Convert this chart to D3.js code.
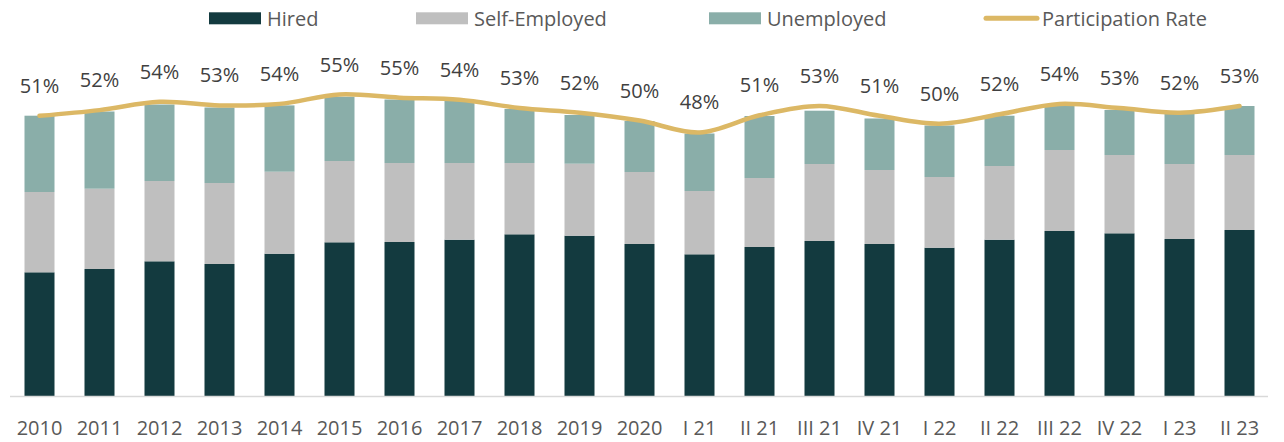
<!DOCTYPE html>
<html>
<head>
<meta charset="utf-8">
<script src="https://cdn.jsdelivr.net/npm/d3@7"></script>
<style>
  html, body { margin: 0; padding: 0; background: #fff; }
  svg { display: block; font-family: "Open Sans", "Noto Sans", sans-serif; }
</style>
</head>
<body>
<div id="chart"></div>
<script>
// categories and series (labour force, thousands)
const categories = ["2010", "2011", "2012", "2013", "2014", "2015", "2016", "2017", "2018", "2019", "2020",
  "I 21", "II 21", "III 21", "IV 21", "I 22", "II 22", "III 22", "IV 22", "I 23", "II 23"];
const hired = [1242, 1275, 1352, 1325, 1428, 1542, 1545, 1568, 1622, 1608, 1525,
  1422, 1495, 1555, 1525, 1488, 1568, 1655, 1632, 1575, 1665];
const selfEmployed = [803, 803, 803, 810, 820, 813, 790, 767, 713, 720, 720,
  633, 690, 770, 740, 707, 737, 810, 783, 750, 750];
const unemployed = [763, 772, 765, 755, 663, 643, 635, 620, 540, 487, 510,
  575, 620, 533, 515, 515, 503, 445, 450, 510, 490];
const participation = [51.3, 52.4, 54.0, 53.3, 53.6, 55.4, 54.8, 54.4, 52.8, 51.9, 50.4,
  48.1, 51.4, 53.2, 51.3, 49.8, 51.6, 53.6, 52.8, 51.9, 53.2];

const seriesNames = ["Hired", "Self-Employed", "Unemployed"];
const colors = { "Hired": "#133a3f", "Self-Employed": "#bfbfbf", "Unemployed": "#8aaea9" };
const lineColor = "#dcb865";

const width = 1284, height = 442;
const baseY = 396.5;

const rows = categories.map((c, i) => ({
  cat: c, "Hired": hired[i], "Self-Employed": selfEmployed[i], "Unemployed": unemployed[i], rate: participation[i]
}));

const svg = d3.select("#chart").append("svg")
  .attr("width", width)
  .attr("height", height);

const x = d3.scaleBand()
  .domain(categories)
  .range([9.5, 1269.5])
  .paddingInner(0.5)
  .paddingOuter(0.25);

const y = d3.scaleLinear()
  .domain([0, 3600])
  .range([baseY, 36.5]);

// secondary scale for participation rate
const y2 = d3.scaleLinear()
  .domain([45, 56])
  .range([148.6, 91.4]);

const stack = d3.stack().keys(seriesNames);
const layers = stack(rows);

svg.append("g")
  .selectAll("g")
  .data(layers)
  .join("g")
  .attr("fill", d => colors[d.key])
  .selectAll("rect")
  .data(d => d)
  .join("rect")
  .attr("x", d => x(d.data.cat))
  .attr("y", d => y(d[1]))
  .attr("width", x.bandwidth())
  .attr("height", d => y(d[0]) - y(d[1]));

// x axis
const xAxis = svg.append("g")
  .attr("transform", `translate(0,${baseY})`)
  .call(d3.axisBottom(x).tickSize(0).tickPadding(24));
xAxis.select(".domain")
  .attr("stroke", "#d9d9d9")
  .attr("stroke-width", 1.5)
  .attr("d", "M10,0H1268");
xAxis.selectAll("text")
  .attr("fill", "#595959")
  .style("font-size", "20px")
  .style("font-family", "'Open Sans', 'Noto Sans', sans-serif");

// participation line
const line = d3.line()
  .x(d => x(d.cat) + x.bandwidth() / 2)
  .y(d => y2(d.rate))
  .curve(d3.curveCatmullRom);

svg.append("path")
  .datum(rows)
  .attr("fill", "none")
  .attr("stroke", lineColor)
  .attr("stroke-width", 4.5)
  .attr("stroke-linecap", "round")
  .attr("d", line);

svg.append("g")
  .selectAll("text")
  .data(rows)
  .join("text")
  .attr("x", d => x(d.cat) + x.bandwidth() / 2)
  .attr("y", d => y2(d.rate) - 23)
  .attr("text-anchor", "middle")
  .attr("fill", "#404040")
  .style("font-size", "20px")
  .text(d => Math.round(d.rate) + "%");

// legend
const legend = svg.append("g").attr("class", "legend");
const legendItems = [
  { name: "Hired", x: 209, type: "rect" },
  { name: "Self-Employed", x: 416, type: "rect" },
  { name: "Unemployed", x: 709, type: "rect" },
  { name: "Participation Rate", x: 984, type: "line" }
];
legendItems.forEach(item => {
  if (item.type === "rect") {
    legend.append("rect")
      .attr("x", item.x).attr("y", 12.3)
      .attr("width", 52).attr("height", 12)
      .attr("fill", colors[item.name]);
  } else {
    legend.append("line")
      .attr("x1", item.x + 2).attr("x2", item.x + 53)
      .attr("y1", 18.3).attr("y2", 18.3)
      .attr("stroke", lineColor)
      .attr("stroke-width", 5)
      .attr("stroke-linecap", "round");
  }
  legend.append("text")
    .attr("x", item.x + 58)
    .attr("y", 25.5)
    .attr("fill", "#595959")
    .style("font-size", "20px")
    .text(item.name);
});
</script>
</body>
</html>
